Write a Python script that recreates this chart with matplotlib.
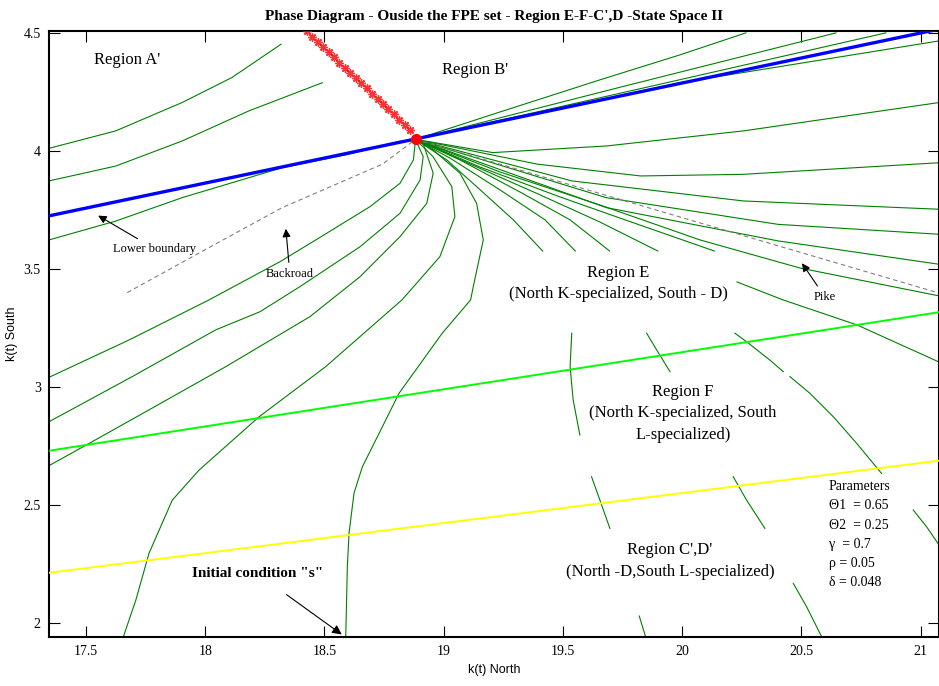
import matplotlib
matplotlib.use("Agg")
import matplotlib.pyplot as plt

# ---- data ----
# steady state
ss_x = [18.882]
ss_y = [4.049]

# stable arm (red stars)
star_x = [18.426, 18.449, 18.471, 18.494, 18.517, 18.540, 18.563, 18.586, 18.608, 18.631,
          18.654, 18.677, 18.700, 18.723, 18.745, 18.768, 18.791, 18.814, 18.837, 18.859]
star_y = [4.506, 4.484, 4.462, 4.440, 4.418, 4.396, 4.374, 4.352, 4.330, 4.309,
          4.287, 4.265, 4.243, 4.221, 4.199, 4.177, 4.155, 4.133, 4.111, 4.089]

# boundaries
blue_x = [17.345, 21.077]
blue_y = [3.725, 4.516]
lime_x = [17.345, 21.077]
lime_y = [2.730, 3.317]
yellow_x = [17.345, 21.077]
yellow_y = [2.213, 2.688]

# dashed roads
back_x = [17.673, 18.002, 18.323, 18.743, 18.882]
back_y = [3.400, 3.583, 3.760, 3.944, 4.049]
pike_x = [18.882, 21.077]
pike_y = [4.049, 3.398]

# trajectories, region A' / B'
a1_x = [17.345, 17.625, 17.903, 18.112, 18.318]
a1_y = [4.011, 4.085, 4.205, 4.311, 4.452]
a2_x = [17.345, 17.625, 17.903, 18.184, 18.491]
a2_y = [3.873, 3.936, 4.042, 4.170, 4.289]
a3_x = [17.345, 17.625, 17.903, 18.323, 18.603, 18.810, 18.882]
a3_y = [3.623, 3.703, 3.802, 3.929, 3.986, 4.040, 4.049]
u1_x = [18.882, 19.236, 19.655, 19.991, 20.267]
u1_y = [4.049, 4.165, 4.301, 4.407, 4.500]
u2_x = [18.882, 19.760, 20.645]
u2_y = [4.049, 4.275, 4.500]
u3_x = [18.882, 19.865, 20.854]
u3_y = [4.049, 4.273, 4.500]
u4_x = [18.882, 19.991, 21.077]
u4_y = [4.049, 4.289, 4.466]

# trajectories coming from the lower left
c1_x = [17.345, 17.680, 18.016, 18.314, 18.509, 18.691, 18.817, 18.873, 18.882]
c1_y = [3.041, 3.199, 3.369, 3.531, 3.651, 3.764, 3.863, 3.962, 4.049]
c2_x = [17.345, 17.694, 18.044, 18.230, 18.397, 18.649, 18.817, 18.901, 18.914, 18.882]
c2_y = [2.853, 3.044, 3.242, 3.319, 3.425, 3.594, 3.736, 3.877, 3.976, 4.049]
c3_x = [17.345, 17.513, 17.764, 18.086, 18.439, 18.649, 18.817, 18.929, 18.956, 18.913, 18.882]
c3_y = [2.667, 2.761, 2.903, 3.086, 3.298, 3.467, 3.637, 3.778, 3.906, 4.034, 4.049]
c4_x = [17.652, 17.709, 17.764, 17.862, 17.974, 18.226, 18.505, 18.825, 18.984, 19.047,
        19.034, 18.955, 18.882]
c4_y = [1.928, 2.097, 2.295, 2.521, 2.648, 2.874, 3.086, 3.369, 3.552, 3.722,
        3.849, 3.976, 4.049]
c5_x = [18.589, 18.596, 18.603, 18.624, 18.659, 18.743, 18.8125, 18.994, 19.113, 19.124,
        19.166, 19.138, 19.068, 18.956, 18.882]
c5_y = [1.928, 2.239, 2.380, 2.551, 2.662, 2.832, 2.973, 3.228, 3.369, 3.425,
        3.623, 3.778, 3.906, 4.004, 4.049]

# fan into region E
r1_x = [18.882, 19.206, 19.682, 20.258, 21.077]
r1_y = [4.049, 3.993, 4.021, 4.085, 4.205]
r2_x = [18.882, 19.393, 19.826, 20.258, 21.077]
r2_y = [4.049, 3.944, 3.894, 3.901, 3.950]
r3_x = [18.882, 19.538, 20.258, 21.077]
r3_y = [4.049, 3.873, 3.788, 3.753]
r4_x = [18.882, 19.682, 20.402, 21.077]
r4_y = [4.049, 3.802, 3.689, 3.647]
r5_x = [18.882, 19.682, 20.402, 21.077]
r5_y = [4.049, 3.760, 3.619, 3.520]
r6_x = [18.882, 19.236, 19.655, 20.075, 20.494, 21.077]
r6_y = [4.049, 3.911, 3.771, 3.623, 3.504, 3.386]
r7_x = [20.230, 20.423, 20.733, 21.077]
r7_y = [3.445, 3.369, 3.263, 3.106]
f1_x = [18.882, 19.013, 19.138, 19.292, 19.415]
f1_y = [4.049, 3.962, 3.849, 3.708, 3.576]
f2_x = [18.882, 19.026, 19.236, 19.425, 19.552]
f2_y = [4.049, 3.970, 3.835, 3.708, 3.576]
f3_x = [18.882, 19.068, 19.320, 19.530, 19.696]
f3_y = [4.049, 3.962, 3.826, 3.708, 3.576]
f4_x = [18.882, 19.110, 19.404, 19.655, 19.898]
f4_y = [4.049, 3.945, 3.814, 3.699, 3.576]
f5_x = [18.882, 19.152, 19.488, 19.823, 20.135]
f5_y = [4.049, 3.932, 3.805, 3.686, 3.576]

# pieces in regions E (lower part), F and C',D'
s1_x = [19.537, 19.530, 19.543, 19.571]
s1_y = [3.228, 3.086, 2.945, 2.797]
s2_x = [19.851, 19.893, 19.949]
s2_y = [3.228, 3.157, 3.065]
s3_x = [20.221, 20.270, 20.368, 20.424]
s3_y = [3.228, 3.192, 3.114, 3.065]
s4_x = [20.452, 20.536, 20.634, 20.732, 20.836]
s4_y = [3.044, 2.973, 2.874, 2.761, 2.634]
d1_x = [19.620, 19.655, 19.697]
d1_y = [2.620, 2.521, 2.401]
d2_x = [20.214, 20.270, 20.347]
d2_y = [2.620, 2.521, 2.401]
d3_x = [20.969, 21.025, 21.077]
d3_y = [2.479, 2.408, 2.331]
d4_x = [20.466, 20.522, 20.592]
d4_y = [2.168, 2.069, 1.928]
d5_x = [19.820, 19.851]
d5_y = [2.030, 1.928]

trajectories = [
    (a1_x, a1_y), (a2_x, a2_y), (a3_x, a3_y),
    (u1_x, u1_y), (u2_x, u2_y), (u3_x, u3_y), (u4_x, u4_y),
    (c1_x, c1_y), (c2_x, c2_y), (c3_x, c3_y), (c4_x, c4_y), (c5_x, c5_y),
    (r1_x, r1_y), (r2_x, r2_y), (r3_x, r3_y), (r4_x, r4_y), (r5_x, r5_y),
    (r6_x, r6_y), (r7_x, r7_y),
    (f1_x, f1_y), (f2_x, f2_y), (f3_x, f3_y), (f4_x, f4_y), (f5_x, f5_y),
    (s1_x, s1_y), (s2_x, s2_y), (s3_x, s3_y), (s4_x, s4_y),
    (d1_x, d1_y), (d2_x, d2_y), (d3_x, d3_y), (d4_x, d4_y), (d5_x, d5_y),
]

x_ticks = [17.5, 18, 18.5, 19, 19.5, 20, 20.5, 21]
x_labels = ['17.5', '18', '18.5', '19', '19.5', '20', '20.5', '21']
y_ticks = [2, 2.5, 3, 3.5, 4, 4.5]
y_labels = ['2', '2.5', '3', '3.5', '4', '4.5']

# ---- plotting ----
serif = 'Liberation Serif'
fig = plt.figure(figsize=(9.39, 6.86), dpi=100)
ax = fig.add_axes([0.0522, 0.0714, 0.9478, 0.8834])

green = '#008000'
for tx, ty in trajectories:
    ax.plot(tx, ty, color=green, lw=0.8, zorder=2)

ax.plot(back_x, back_y, color='#808080', lw=0.8, ls=(0, (4, 3)), zorder=2)
ax.plot(pike_x, pike_y, color='#808080', lw=0.8, ls=(0, (4, 3)), zorder=2)

ax.plot(lime_x, lime_y, color='#00ff00', lw=1.4, zorder=3)
ax.plot(yellow_x, yellow_y, color='#ffff00', lw=1.4, zorder=3)
ax.plot(blue_x, blue_y, color='#0000ff', lw=2.4, zorder=3)

ax.plot(star_x, star_y, ls='none', marker=(8, 2, 0), ms=6, mew=1.0,
        color='#ff0000', alpha=0.8, zorder=4)
ax.plot(ss_x, ss_y, ls='none', marker='o', ms=7, color='#ff0000', zorder=5)

# region labels
ax.text(17.672, 4.386, "Region A'", fontsize=12, family=serif, ha='center', va='center')
ax.text(19.131, 4.343, "Region B'", fontsize=12, family=serif, ha='center', va='center')
ax.text(19.731, 3.439, "Region E\n(North K-specialized, South - D)", fontsize=12,
        family=serif, ha='center', va='center', linespacing=1.45)
ax.text(20.003, 2.888, "Region F\n(North K-specialized, South\nL-specialized)", fontsize=12,
        family=serif, ha='center', va='center', linespacing=1.45)
ax.text(19.949, 2.263, "Region C',D'\n(North -D,South L-specialized)", fontsize=12,
        family=serif, ha='center', va='center', linespacing=1.45)

ax.text(20.615, 2.605, "Parameters\n\u03981  = 0.65\n\u03982  = 0.25\n\u03b3  = 0.7\n\u03c1 = 0.05\n\u03b4 = 0.048",
        fontsize=10, family=serif, ha='left', va='top', linespacing=1.62)

# annotations with arrows
arrow = dict(arrowstyle='-|>', color='black', lw=0.8, mutation_scale=12)
ax.annotate('Lower boundary', xy=(17.541, 3.732), xytext=(17.789, 3.585),
            fontsize=9, family=serif, ha='center', va='center', arrowprops=arrow)
ax.annotate('Backroad', xy=(18.337, 3.682), xytext=(18.355, 3.479),
            fontsize=9, family=serif, ha='center', va='center', arrowprops=arrow)
ax.annotate('Pike', xy=(20.496, 3.534), xytext=(20.599, 3.381),
            fontsize=9, family=serif, ha='center', va='center', arrowprops=arrow)
ax.annotate('Initial condition "s"', xy=(18.582, 1.945), xytext=(18.221, 2.208),
            fontsize=11, family=serif, fontweight='bold', ha='center', va='center',
            arrowprops=dict(arrowstyle='-|>', color='black', lw=0.8, mutation_scale=14,
                            shrinkA=14))

ax.set_xlim(17.345, 21.077)
ax.set_ylim(1.941, 4.508)
ax.set_xticks(x_ticks)
ax.set_xticklabels(x_labels, family=serif, fontsize=10)
ax.set_yticks(y_ticks)
ax.set_yticklabels(y_labels, family=serif, fontsize=10)
ax.tick_params(direction='in', length=8, width=0.8, top=True, right=True, pad=6)
for sp in ax.spines.values():
    sp.set_linewidth(1.5)

ax.set_xlabel('k(t) North', family='Liberation Sans', fontsize=9, labelpad=4)
ax.set_ylabel('k(t) South', family='Liberation Sans', fontsize=9, labelpad=4)
ax.set_title("Phase Diagram - Ouside the FPE set - Region E-F-C',D -State Space II",
             family=serif, fontsize=11, fontweight='bold', pad=8)

fig.savefig('out.png', dpi=100)
